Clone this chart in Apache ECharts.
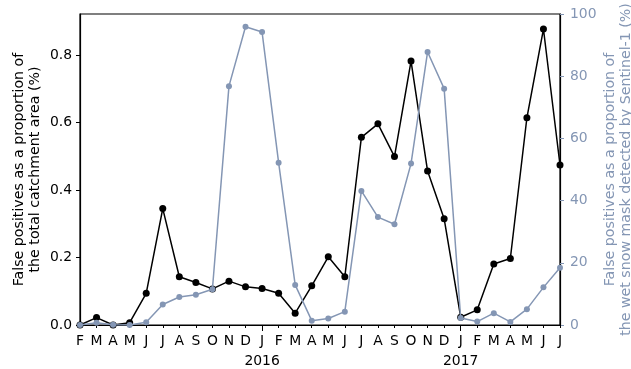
<!DOCTYPE html>
<html>
<head>
<meta charset="utf-8">
<script src="https://cdn.jsdelivr.net/npm/echarts@6/dist/echarts.min.js"></script>
<style>
html,body{margin:0;padding:0;background:#fff;}
#chart{width:631px;height:369px;}
</style>
</head>
<body>
<div id="chart"></div>
<script>
const categories = ['2015-02','2015-03','2015-04','2015-05','2015-06','2015-07','2015-08','2015-09','2015-10','2015-11','2015-12',
  '2016-01','2016-02','2016-03','2016-04','2016-05','2016-06','2016-07','2016-08','2016-09','2016-10','2016-11','2016-12',
  '2017-01','2017-02','2017-03','2017-04','2017-05','2017-06','2017-07'];
const monthLabels = ['F','M','A','M','J','J','A','S','O','N','D','J','F','M','A','M','J','J','A','S','O','N','D','J','F','M','A','M','J','J'];
const yearLabels = ['','','','','','','','','','','','2016','','','','','','','','','','','','2017','','','','','',''];
const catchmentFP = [0.0, 0.022, 0.0, 0.007, 0.094, 0.345, 0.143, 0.126, 0.107, 0.130, 0.113, 0.108, 0.094, 0.035, 0.116,
  0.202, 0.143, 0.556, 0.596, 0.499, 0.782, 0.456, 0.315, 0.023, 0.045, 0.181, 0.197, 0.614, 0.877, 0.474];
const wetSnowFP = [0, 0.75, 0.1, 0, 0.85, 6.6, 9.0, 9.7, 11.5, 76.8, 95.9, 94.2, 52.2, 12.9, 1.4,
  2.1, 4.3, 43.1, 34.7, 32.4, 51.9, 87.8, 76.0, 2.25, 1.1, 3.8, 1.0, 5.1, 12.1, 18.4];
const leftTicks = [0, 0.2, 0.4, 0.6, 0.8];
const rightTicks = [0, 20, 40, 60, 80, 100];

const BLUE = '#8496b4';
const FONT = 'DejaVu Sans';
const FS = 13.9;

const chart = echarts.init(document.getElementById('chart'), null, {renderer: 'canvas'});
chart.setOption({
  animation: false,
  backgroundColor: '#fff',
  grid: {left: 80, right: 71, top: 14, bottom: 44, show: true, borderColor: '#000', borderWidth: 1.2,
    containLabel: false, outerBoundsMode: 'none'},
  xAxis: [{
    type: 'category',
    data: categories,
    boundaryGap: false,
    position: 'bottom',
    axisLine: {show: true, lineStyle: {color: '#000', width: 1.2}},
    axisTick: {show: true, length: 3, interval: 0, lineStyle: {color: '#000', width: 1}},
    axisLabel: {
      interval: 0, margin: 7, color: '#000', fontFamily: FONT, fontSize: FS, lineHeight: 19.5,
      formatter: function (v, i) { return yearLabels[i] ? monthLabels[i] + '\n' + yearLabels[i] : monthLabels[i]; }
    },
    splitLine: {show: false}
  }, {
    type: 'category',
    data: categories,
    boundaryGap: false,
    position: 'bottom',
    axisLine: {show: false},
    axisTick: {show: true, length: 6, interval: function (i) { return yearLabels[i] !== ''; }, lineStyle: {color: '#000', width: 1}},
    axisLabel: {show: false},
    splitLine: {show: false}
  }],
  yAxis: [{
    type: 'value',
    position: 'left',
    min: 0, max: 0.9215,
    axisLine: {show: true, lineStyle: {color: '#000', width: 1.2}},
    axisTick: {show: true, length: 4, customValues: leftTicks, lineStyle: {color: '#000'}},
    axisLabel: {margin: 8, color: '#000', fontFamily: FONT, fontSize: FS, customValues: leftTicks,
      formatter: function (v) { return v.toFixed(1); }},
    splitLine: {show: false},
    name: 'False positives as a proportion of\nthe total catchment area (%)',
    nameLocation: 'middle', nameRotate: 90, nameGap: 37, nameMoveOverlap: false,
    nameTextStyle: {color: '#000', fontFamily: FONT, fontSize: 14.2, lineHeight: 16}
  }, {
    type: 'value',
    position: 'right',
    min: 0, max: 100,
    axisLine: {show: true, lineStyle: {color: '#000', width: 1.2}},
    axisTick: {show: true, length: 4, customValues: rightTicks, lineStyle: {color: BLUE}},
    axisLabel: {margin: 10, color: BLUE, fontFamily: FONT, fontSize: FS, customValues: rightTicks},
    splitLine: {show: false},
    name: 'False positives as a proportion of\nthe wet snow mask detected by Sentinel-1 (%)',
    nameLocation: 'middle', nameRotate: 90, nameGap: 42, nameMoveOverlap: false,
    nameTextStyle: {color: BLUE, fontFamily: FONT, fontSize: 14.2, lineHeight: 16}
  }],
  series: [{
    name: 'catchment',
    type: 'line',
    xAxisIndex: 0, yAxisIndex: 0,
    data: catchmentFP,
    symbol: 'circle', symbolSize: 7,
    lineStyle: {color: '#000', width: 1.5},
    itemStyle: {color: '#000'},
    z: 2
  }, {
    name: 'wetsnow',
    type: 'line',
    xAxisIndex: 0, yAxisIndex: 1,
    data: wetSnowFP,
    symbol: 'circle', symbolSize: 6,
    lineStyle: {color: BLUE, width: 1.5},
    itemStyle: {color: BLUE},
    z: 3
  }]
});
</script>
</body>
</html>
